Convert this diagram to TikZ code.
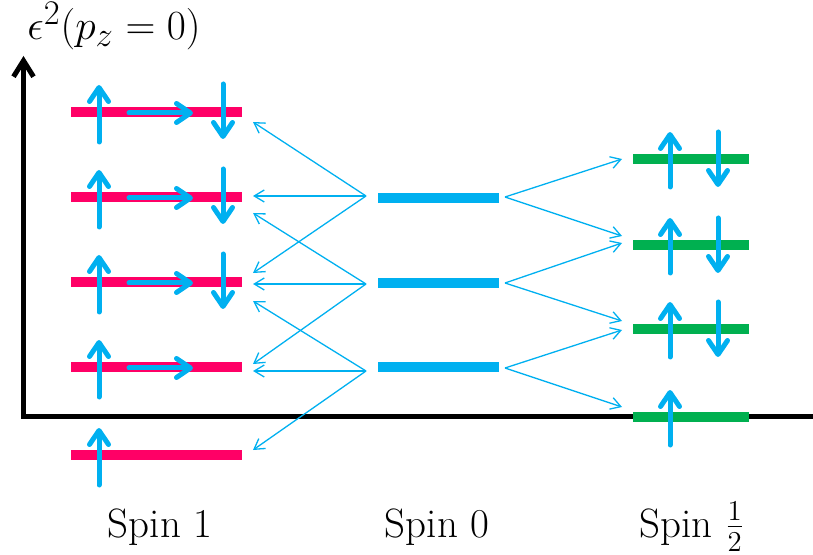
\documentclass[tikz,border=0pt]{standalone}
\usetikzlibrary{arrows.meta}
\definecolor{spinred}{HTML}{FF0066}
\definecolor{spincyan}{HTML}{00B0F0}
\definecolor{spingreen}{HTML}{00B050}
\begin{document}
\begin{tikzpicture}[x=0.5pt,y=-0.5pt,
  axisline/.style={line width=2.5pt,black},
  lvlred/.style={line width=5pt,spinred},
  lvlcyan/.style={line width=5pt,spincyan},
  lvlgreen/.style={line width=5pt,spingreen},
  spinarrow/.style={spincyan,line width=2.5pt,line cap=round,-{Straight Barb[length=7pt,width=9.5pt,round]}},
  trans/.style={spincyan,line width=0.65pt,-{Straight Barb[length=5pt,width=6pt]}},
  lab/.style={anchor=base,font=\fontsize{20.5}{24}\selectfont,inner sep=0pt}]
\useasboundingbox (0,0) rectangle (813,555);
% axes
\coordinate (ytip) at (23.5,56);
\coordinate (orig) at (23.5,416.5);
\coordinate (xend) at (813,416.5);
\draw[axisline,{Straight Barb[length=8pt,width=10pt]}-] (ytip) -- (orig) -- (xend);
\node[lab,anchor=base west,font=\fontsize{22.7}{27}\selectfont] (ylab) at (27,40) {$\epsilon^2(p_z=0)$};
% spin 1 levels
\foreach \n/\y in {1/112,2/197,3/282,4/367,5/455}{
  \coordinate (r\n w) at (71,\y);
  \coordinate (r\n e) at (242,\y);
  \draw[lvlred] (r\n w) -- (r\n e);
}
% spin 0 levels
\foreach \n/\y in {1/198,2/283,3/367}{
  \coordinate (c\n w) at (378,\y);
  \coordinate (c\n e) at (499,\y);
  \draw[lvlcyan] (c\n w) -- (c\n e);
}
% spin 1/2 levels
\foreach \n/\y in {1/159,2/245,3/329,4/417}{
  \coordinate (g\n w) at (633,\y);
  \coordinate (g\n e) at (749,\y);
  \draw[lvlgreen] (g\n w) -- (g\n e);
}
% spin arrows on spin 1 levels
\foreach \y in {112,197,282,367,455}{
  \coordinate (ua\y) at (99,\y+30);
  \coordinate (ub\y) at (99,\y-27);
  \draw[spinarrow] (ua\y) -- (ub\y);
}
\foreach \y in {112,197,282,367}{
  \coordinate (ha\y) at (129,\y+1);
  \coordinate (hb\y) at (193,\y+1);
  \draw[spinarrow] (ha\y) -- (hb\y);
}
\foreach \y in {112,197,282}{
  \coordinate (da\y) at (223,\y-28);
  \coordinate (db\y) at (223,\y+27);
  \draw[spinarrow] (da\y) -- (db\y);
}
% spin arrows on spin 1/2 levels
\foreach \y in {159,245,329,417}{
  \coordinate (gua\y) at (670,\y+28);
  \coordinate (gub\y) at (670,\y-27);
  \draw[spinarrow] (gua\y) -- (gub\y);
}
\foreach \y in {159,245,329}{
  \coordinate (gda\y) at (718,\y-27);
  \coordinate (gdb\y) at (718,\y+28);
  \draw[spinarrow] (gda\y) -- (gdb\y);
}
% transition sources
\coordinate (sl1) at (366,196);
\coordinate (sl2) at (366,284);
\coordinate (sl3) at (366,371);
\coordinate (sr1) at (505,197);
\coordinate (sr2) at (505,283);
\coordinate (sr3) at (505,368);
% targets on spin 1 side
\coordinate (t1a) at (253,122);
\coordinate (t1b) at (253,196);
\coordinate (t1c) at (253,273);
\coordinate (t2a) at (253,213);
\coordinate (t2b) at (253,284);
\coordinate (t2c) at (253,364);
\coordinate (t3a) at (253,301);
\coordinate (t3b) at (253,371);
\coordinate (t3c) at (253,450);
% targets on spin 1/2 side
\coordinate (u1a) at (622,159);
\coordinate (u1b) at (622,236);
\coordinate (u2a) at (622,243);
\coordinate (u2b) at (622,321);
\coordinate (u3a) at (622,330);
\coordinate (u3b) at (622,407);
\foreach \k in {1,2,3}{
  \foreach \s in {a,b,c}{
    \draw[trans] (sl\k) -- (t\k\s);
  }
  \foreach \s in {a,b}{
    \draw[trans] (sr\k) -- (u\k\s);
  }
}
% labels
\node[lab] (s1) at (160,537) {Spin 1};
\node[lab] (s0) at (437,537) {Spin 0};
\node[lab] (sh) at (692,537) {Spin $\frac{1}{2}$};
\end{tikzpicture}
\end{document}
